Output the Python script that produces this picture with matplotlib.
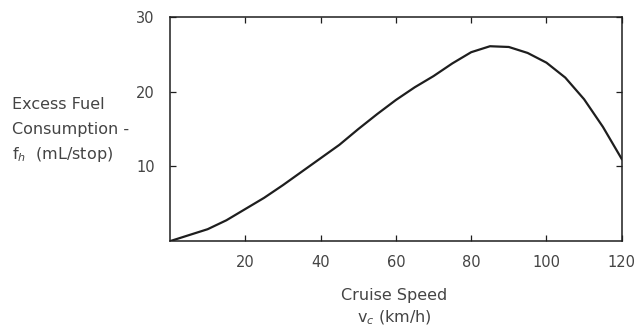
import matplotlib.pyplot as plt

# excess fuel consumption per stop vs. cruise speed
speed = [0, 5, 10, 15, 20, 25, 30, 35, 40, 45, 50, 55, 60,
         65, 70, 75, 80, 85, 90, 95, 100, 105, 110, 115, 120]
fuel = [0.0, 0.8, 1.6, 2.8, 4.3, 5.8, 7.5, 9.3, 11.1, 12.9, 15.0, 17.0, 18.9,
        20.6, 22.1, 23.8, 25.3, 26.1, 26.0, 25.2, 23.9, 21.9, 19.0, 15.3, 11.0]

x_ticks = [20, 40, 60, 80, 100, 120]
y_ticks = [10, 20, 30]

ink = '#1e1e1e'
text_col = '#444444'

fig = plt.figure(figsize=(6.39, 3.29), dpi=100)
ax = fig.add_axes([0.266, 0.267, 0.707, 0.681])

ax.plot(speed, fuel, color=ink, lw=1.6)

ax.set_xlim(0, 120)
ax.set_ylim(0, 30)
ax.set_xticks(x_ticks)
ax.set_yticks(y_ticks)
ax.tick_params(direction='in', length=4, width=0.9, color=ink,
               labelsize=10.5, labelcolor=text_col,
               top=True, right=True)
ax.tick_params(axis='x', pad=10)
ax.tick_params(axis='y', pad=11)
for s in ax.spines.values():
    s.set_color(ink)
    s.set_linewidth(1.1)

lbl = dict(fontsize=11.5, color=text_col, va='center')
fig.text(0.018, 0.681, 'Excess Fuel', **lbl)
fig.text(0.018, 0.605, 'Consumption -', **lbl)
fig.text(0.018, 0.529, r'f$_h$  (mL/stop)', **lbl)

fig.text(0.617, 0.103, 'Cruise Speed', ha='center', **lbl)
fig.text(0.617, 0.033, r'v$_c$ (km/h)', ha='center', **lbl)

fig.savefig('out.png', dpi=100)
